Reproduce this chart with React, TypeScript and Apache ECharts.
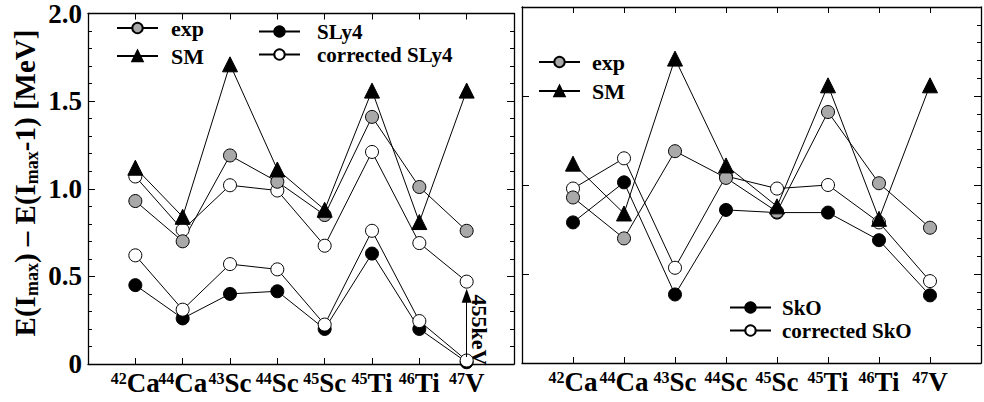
import React, { useEffect, useRef } from "react";
import * as echarts from "echarts";

// ---- data ----
const massNumbers = ["42", "44", "43", "44", "45", "45", "46", "47"];
const elements = ["Ca", "Ca", "Sc", "Sc", "Sc", "Ti", "Ti", "V"];

const expValues = [0.93, 0.7, 1.19, 1.04, 0.85, 1.41, 1.01, 0.76];
const smValues = [1.12, 0.84, 1.71, 1.11, 0.88, 1.56, 0.81, 1.56];

const sly4Values = [0.45, 0.26, 0.4, 0.415, 0.2, 0.63, 0.2, 0.01];
const correctedSly4Values = [0.62, 0.31, 0.57, 0.54, 0.225, 0.76, 0.245, 0.02];
const shiftedSly4Values = [1.07, 0.765, 1.02, 0.99, 0.675, 1.21, 0.69, 0.47];

const skoValues = [0.79, 1.015, 0.385, 0.86, 0.845, 0.845, 0.69, 0.38];
const correctedSkoValues = [0.98, 1.15, 0.535, 1.05, 0.98, 1.0, 0.79, 0.46];

const yTickValues = [0, 0.5, 1.0, 1.5, 2.0];
const shiftLabel = "455keV";

const FONT = "Liberation Serif, Times New Roman, serif";
const GRAY = "#a9a9a9";

const toPairs = (arr: number[]) => arr.map((v, i) => [i + 1, v]);

function lineSeries(
  name: string,
  values: number[],
  grid: number,
  symbol: string,
  fill: string,
  extra: any = {}
) {
  return {
    type: "line",
    name,
    xAxisIndex: grid * 2,
    yAxisIndex: grid * 2,
    data: toPairs(values),
    symbol,
    symbolSize: symbol === "triangle" ? 15 : 13,
    lineStyle: { color: "#000", width: 1 },
    itemStyle: { color: fill, borderColor: "#000", borderWidth: 1 },
    emphasis: { disabled: true },
    ...extra,
  };
}

function xAxes(grid: number) {
  const base = {
    type: "value",
    gridIndex: grid,
    min: 0,
    max: 9,
    interval: 1,
    splitLine: { show: false },
    axisLine: { show: true, onZero: false, lineStyle: { color: "#000", width: 1.3 } },
    axisTick: { show: true, inside: true, length: 6, lineStyle: { color: "#000" } },
  };
  return [
    {
      ...base,
      position: "bottom",
      axisLabel: {
        show: true,
        margin: 6,
        formatter: (v: number) =>
          v >= 1 && v <= 8 ? `{s|${massNumbers[v - 1]}}{b|${elements[v - 1]}}` : "",
        rich: {
          s: { fontSize: 16, fontWeight: "bold", fontFamily: FONT, color: "#000", lineHeight: 16, verticalAlign: "top" },
          b: { fontSize: 27, fontWeight: "bold", fontFamily: FONT, color: "#000", lineHeight: 26 },
        },
      },
    },
    { ...base, position: "top", axisLabel: { show: false } },
  ];
}

function yAxes(grid: number) {
  const base = {
    type: "value",
    gridIndex: grid,
    min: 0,
    max: 2,
    interval: 0.5,
    splitLine: { show: false },
    axisLine: { show: true, onZero: false, lineStyle: { color: "#000", width: 1.3 } },
    axisTick: { show: true, inside: true, length: 7, lineStyle: { color: "#000" } },
    minorTick: { show: true, splitNumber: 5, length: 4, lineStyle: { color: "#000" } },
    minorSplitLine: { show: false },
  };
  return [
    {
      ...base,
      position: "left",
      minorTick: grid === 0 ? base.minorTick : { show: false },
      axisLabel:
        grid === 0
          ? {
              show: true,
              margin: 6,
              fontSize: 27,
              fontWeight: "bold",
              fontFamily: FONT,
              color: "#000",
              formatter: (v: number) =>
                yTickValues.includes(v) ? (v === 0 ? "0" : v.toFixed(1)) : "",
            }
          : { show: false },
    },
    { ...base, position: "right", axisLabel: { show: false } },
  ];
}

function legend(names: string[], left: number, top: number, gap: number, textGap: number, size = 22) {
  return {
    data: names,
    left,
    top,
    orient: "vertical",
    padding: 0,
    itemWidth: 41,
    itemHeight: 13,
    itemGap: gap,
    selectedMode: false,
    textStyle: {
      fontSize: size,
      fontWeight: "bold",
      fontFamily: FONT,
      color: "#000",
      padding: [0, 0, 0, textGap],
    },
  };
}

export default function App() {
  const ref = useRef<HTMLDivElement>(null);

  useEffect(() => {
    document.body.style.margin = "0";
    if (!ref.current) return;
    const chart = echarts.init(ref.current, null, { renderer: "svg" });

    const option: any = {
      animation: false,
      backgroundColor: "#fff",
      grid: [
        { left: 88, top: 7, width: 426, height: 357 },
        { left: 522, top: 7, width: 468, height: 356 },
      ],
      xAxis: [...xAxes(0), ...xAxes(1)],
      yAxis: [...yAxes(0), ...yAxes(1)],
      legend: [
        legend(["exp", "SM"], 116, 17, 6, 8),
        legend(["SLy4", "corrected SLy4"], 258, 21, 2, 12, 21),
        legend(["exp", "SM"], 538, 51, 7, 7),
        legend(["SkO", "corrected SkO"], 729, 297, 2, 6, 21),
      ],
      series: [
        lineSeries("SLy4", sly4Values, 0, "circle", "#000"),
        lineSeries("corrected SLy4", correctedSly4Values, 0, "circle", "#fff", {
          markLine: {
            silent: true,
            symbol: ["none", "triangle"],
            symbolSize: [10, 14],
            lineStyle: { color: "#000", width: 1, type: "solid" },
            label: { show: false },
            data: [[{ coord: [8, 0.04] }, { coord: [8, 0.39] }]],
          },
        }),
        lineSeries("corrected SLy4 + 455keV", shiftedSly4Values, 0, "circle", "#fff"),
        lineSeries("exp", expValues, 0, "circle", GRAY),
        lineSeries("SM", smValues, 0, "triangle", "#000"),
        lineSeries("SkO", skoValues, 1, "circle", "#000"),
        lineSeries("corrected SkO", correctedSkoValues, 1, "circle", "#fff"),
        lineSeries("exp", expValues, 1, "circle", GRAY),
        lineSeries("SM", smValues, 1, "triangle", "#000"),
      ],
      graphic: [
        {
          type: "text",
          x: 25,
          y: 183,
          rotation: Math.PI / 2,
          style: {
            text: "{m|E(I}{s|max}{m|) – E(I}{s|max}{m|-1) [MeV]}",
            align: "center",
            verticalAlign: "middle",
            rich: {
              m: { fontSize: 29, fontWeight: "bold", fontFamily: FONT, fill: "#000", lineHeight: 32 },
              s: { fontSize: 18, fontWeight: "bold", fontFamily: FONT, fill: "#000", lineHeight: 18, verticalAlign: "bottom" },
            },
          },
        },
        {
          type: "text",
          x: 479,
          y: 330,
          rotation: -Math.PI / 2,
          style: {
            text: shiftLabel,
            align: "center",
            verticalAlign: "middle",
            fontSize: 22,
            fontWeight: "bold",
            fontFamily: FONT,
            fill: "#000",
          },
        },
      ],
    };

    chart.setOption(option);
    return () => chart.dispose();
  }, []);

  return <div ref={ref} style={{ width: 984, height: 402 }} />;
}
